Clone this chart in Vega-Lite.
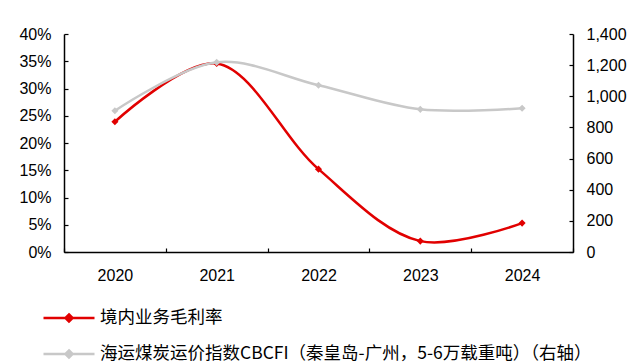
{
  "$schema": "https://vega.github.io/schema/vega-lite/v6.json",
  "width": 509,
  "height": 218,
  "autosize": {"type": "none"},
  "padding": {"left": 64, "top": 34, "right": 68, "bottom": 111},
  "background": "white",
  "data": {
    "values": [
      {"year": "2020", "margin": 0.239, "cbcfi": 907},
      {"year": "2021", "margin": 0.346, "cbcfi": 1218},
      {"year": "2022", "margin": 0.152, "cbcfi": 1071},
      {"year": "2023", "margin": 0.020, "cbcfi": 916},
      {"year": "2024", "margin": 0.053, "cbcfi": 923}
    ]
  },
  "encoding": {
    "x": {
      "field": "year",
      "type": "ordinal",
      "scale": {"type": "band", "paddingInner": 0, "paddingOuter": 0},
      "axis": {
        "title": null,
        "labelAngle": 0,
        "tickBand": "extent",
        "tickSize": -4,
        "labelPadding": 19,
        "labelFont": "Liberation Sans",
        "labelFontSize": 16,
        "labelColor": "#000000",
        "domainColor": "#000000",
        "tickColor": "#000000",
        "domainWidth": 1.5,
        "tickWidth": 1.2
      }
    }
  },
  "layer": [
    {
      "mark": {
        "type": "line",
        "interpolate": "catmull-rom",
        "strokeWidth": 2.5,
        "point": {"shape": "diamond", "size": 50, "filled": true}
      },
      "encoding": {
        "y": {
          "field": "margin",
          "type": "quantitative",
          "scale": {"domain": [0, 0.4], "nice": false},
          "axis": {
            "title": null,
            "values": [0, 0.05, 0.1, 0.15, 0.2, 0.25, 0.3, 0.35, 0.4],
            "format": ".0%",
            "grid": false,
            "tickSize": -4,
            "labelPadding": 17,
            "labelFont": "Liberation Sans",
            "labelFontSize": 16,
            "labelColor": "#000000",
            "domainColor": "#000000",
            "tickColor": "#000000",
            "domainWidth": 1.5,
            "tickWidth": 1.2
          }
        },
        "color": {"datum": "境内业务毛利率"}
      }
    },
    {
      "mark": {
        "type": "line",
        "interpolate": "catmull-rom",
        "strokeWidth": 2.5,
        "point": {"shape": "diamond", "size": 50, "filled": true}
      },
      "encoding": {
        "y": {
          "field": "cbcfi",
          "type": "quantitative",
          "scale": {"domain": [0, 1400], "nice": false},
          "axis": {
            "title": null,
            "orient": "right",
            "values": [0, 200, 400, 600, 800, 1000, 1200, 1400],
            "format": ",d",
            "grid": false,
            "tickSize": -4,
            "labelPadding": 17,
            "labelFont": "Liberation Sans",
            "labelFontSize": 16,
            "labelColor": "#000000",
            "domainColor": "#000000",
            "tickColor": "#000000",
            "domainWidth": 1.5,
            "tickWidth": 1.2
          }
        },
        "color": {"datum": "海运煤炭运价指数CBCFI（秦皇岛-广州，5-6万载重吨）（右轴）"}
      }
    }
  ],
  "resolve": {"scale": {"y": "independent"}},
  "config": {
    "view": {"stroke": null},
    "range": {"category": ["#e10000", "#c8c8c8"]},
    "legend": {
      "orient": "none",
      "legendX": -22,
      "legendY": 257,
      "direction": "vertical",
      "title": null,
      "padding": 0,
      "rowPadding": -19,
      "symbolType": "M-1,0H1M0,-0.14L0.14,0L0,0.14L-0.14,0Z",
      "symbolSize": 2601,
      "symbolStrokeWidth": 2.5,
      "labelFont": "Noto Sans CJK SC",
      "labelFontSize": 17.5,
      "labelColor": "#000000",
      "labelOffset": 4,
      "labelLimit": 700
    }
  }
}
